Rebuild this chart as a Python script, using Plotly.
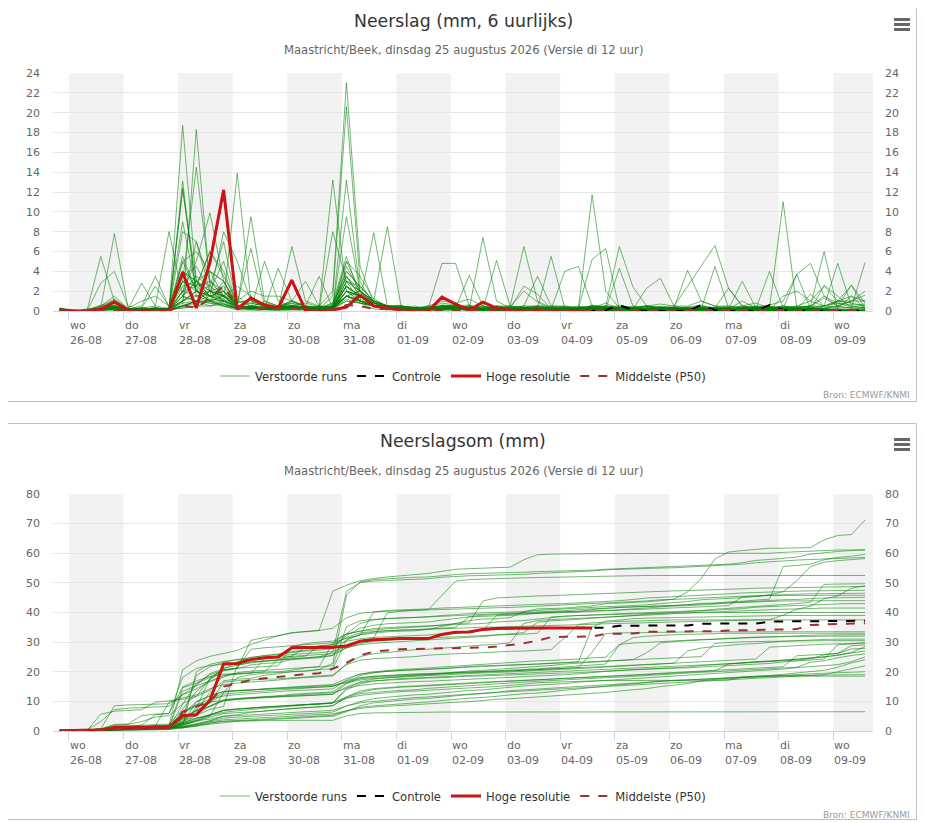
import numpy as np
import pandas as pd
import plotly.graph_objects as go

# 6-hourly precipitation (mm), first value at 25-08 20:00
start = "2026-08-25 20:00"
n_steps = 60

weekdays = ["wo", "do", "vr", "za", "zo", "ma", "di",
            "wo", "do", "vr", "za", "zo", "ma", "di", "wo"]
day_dates = ["26-08", "27-08", "28-08", "29-08", "30-08", "31-08", "01-09",
             "02-09", "03-09", "04-09", "05-09", "06-09", "07-09", "08-09", "09-09"]

hires_6h = [0.1, 0, 0, 0.2, 0.9, 0.1, 0, 0, 0, 3.9, 0.3, 4.9, 12.2,
            0.2, 1.3, 0.6, 0.3, 3.1, 0.1, 0, 0.1, 0.4, 1.6, 0.5, 0.3,
            0.1, 0, 0, 1.4, 0.7, 0.1, 0.9, 0.3, 0.1, 0, 0.1, 0, 0, 0, 0]

control_6h = [0.1, 0, 0, 0.2, 0.9, 0.1, 0, 0, 0, 3.9, 0.3, 4.9, 12.2,
              0.2, 1.3, 0.6, 0.3, 3.1, 0.1, 0, 0.1, 0.4, 1.6, 0.5, 0.3,
              0.1, 0, 0, 1.4, 0.7, 0.1, 0.9, 0.3, 0.1, 0, 0.1, 0, 0, 0, 0,
              0.1, 0.6, 0.1, 0, 0, 0, 0, 0.6, 0.1, 0, 0, 0, 0.6,
              0.1, 0, 0.1, 0, 0, 0, 0.1]

p50_6h = [0, 0, 0, 0, 0.1, 0, 0, 0, 0, 0.6, 0.3, 1.3, 2.5,
          0.4, 0.3, 0.2, 0.2, 0.3, 0.1, 0.1, 0.1, 0.6, 0.5, 0.2, 0.2,
          0.1, 0, 0, 0.1, 0.1, 0.1, 0.1, 0.1, 0.1, 0.1, 0.1, 0.1,
          0.1, 0.1, 0.1, 0.1, 0.1, 0.1, 0, 0.1, 0, 0.1, 0.1, 0.1,
          0.1, 0.1, 0, 0.1, 0.1, 0.1, 0.1, 0.1, 0.1, 0.1, 0.1]

# median of the accumulated sums (own series in the lower chart)
p50_sum = [0.3, 0.3, 0.3, 0.3, 0.5, 0.6, 0.7, 0.8, 0.9, 6.5, 8.2, 9.9, 15.0,
           16.2, 17.2, 17.8, 18.3, 18.9, 19.2, 19.5, 21.0, 23.0, 25.5, 26.8, 27.3,
           27.6, 27.7, 27.8, 27.9, 27.9, 28.0, 28.2, 28.5, 29.0, 29.6, 30.5, 31.7,
           31.8, 31.9, 31.9, 32.8, 32.8, 32.9, 33.5, 33.5, 33.5, 33.5, 33.5, 33.7,
           33.9, 34.0, 34.1, 34.1, 34.2, 34.4, 35.8, 36.0, 36.2, 36.3, 36.4]

members_6h = [
    [0.2, 0, 0, 0.4, 1.1, 0.2, 0, 0.3, 0.1, 5.0, 6.0, 4.0, 3.0, 0.8, 1.2, 0.5, 0.3, 1.0, 0.4, 0.2, 0.8, 5.5, 1.5, 0.6, 0.4, 0.2, 0.1, 0.5, 1.0, 0.8, 1.2, 0.5, 0.1, 0.4, 2.0, 0.9, 0.1, 0.2, 0.4, 0.3, 0.8, 0.2, 0.1, 0.3, 0.4, 0.5, 2.5, 4.5, 6.6, 2.3, 0.5, 0.3, 0.5, 0, 0.1, 0.1, 2.6, 1.5, 0.3, 4.9],
    [0.1, 0, 0.1, 0.6, 0.5, 0.2, 0.1, 0.3, 0.1, 18.7, 3.0, 1.5, 1.0, 1.0, 2.0, 1.5, 1.5, 1.0, 0.5, 0.3, 13.2, 2.0, 1.5, 0.8, 0.5, 0.5, 0.3, 0.4, 0.8, 0.6, 0.2, 0.1, 0.1, 0.3, 2.5, 1.7, 0.2, 0.1, 0, 0, 0.1, 0, 0, 0, 0.1, 0, 0, 0, 0, 0, 0, 0, 0, 0.3, 0.2, 0.3, 0.2, 0.1, 0, 0.1],
    [0.1, 0, 0, 0.3, 0.5, 0.1, 0.2, 0.2, 0.1, 3.0, 2.5, 6.0, 4.0, 0.5, 0.3, 1.0, 0.5, 0.8, 0.2, 0.5, 2.0, 23.0, 4.5, 0.8, 0.3, 0.3, 0.2, 0.1, 0.5, 0.3, 0.3, 0.1, 0, 0.1, 0.3, 0.2, 0.1, 0.1, 0.2, 0.1, 0.3, 0.2, 0.1, 0.3, 0.2, 0.1, 0.1, 0.3, 0.2, 0.2, 0.5, 0.8, 0.3, 0.3, 0.5, 1.0, 0.5, 0.4, 0.3, 0.2],
    [0.1, 0, 0, 0.2, 0.3, 0.1, 0.1, 0.1, 0.1, 12.4, 2.0, 4.0, 1.5, 2.5, 1.5, 0.5, 0.4, 1.0, 0.5, 0.3, 0.6, 4.0, 2.5, 1.0, 0.5, 0.2, 0.1, 0.3, 0.6, 0.5, 0.6, 0.2, 0.1, 0.2, 0.3, 0.5, 0.3, 0.2, 0.1, 0.6, 0.4, 0.3, 0.2, 0.1, 0.2, 0.1, 0.3, 0.5, 0.2, 0.2, 0.3, 0.4, 0.3, 11.0, 0.3, 0.5, 1.5, 0.8, 0.4, 0.6],
    [0.1, 0, 0, 0.2, 0.2, 0.1, 0, 0.1, 0.1, 1.5, 3.0, 2.0, 1.0, 13.9, 1.0, 0.5, 0.3, 0.5, 0.3, 0.2, 1.5, 20.6, 3.0, 0.5, 0.2, 0.2, 0.1, 0.3, 0.5, 0.3, 0.2, 0.1, 0.1, 0.1, 0.2, 0.3, 0.2, 0.1, 0.2, 0.3, 0.4, 0.2, 0.1, 0.2, 0.1, 0.1, 0.2, 0.3, 0.2, 0.3, 0.2, 0.5, 0.4, 0.2, 0.3, 0.2, 0.1, 0.2, 0.1, 0.3],
    [0.2, 0, 0.1, 0.3, 0.2, 0.1, 0.1, 0.1, 0.1, 3.0, 14.5, 3.0, 1.5, 1.0, 0.5, 0.8, 0.5, 0.6, 0.4, 0.3, 0.5, 5.0, 3.5, 1.2, 0.5, 0.1, 0.2, 0.3, 0.4, 0.3, 0.4, 0.2, 0.1, 0.1, 0.2, 0.4, 0.3, 0.2, 0.3, 0.4, 0.1, 0.1, 0.2, 0.3, 0.4, 0.3, 0.4, 0.6, 0.2, 0.2, 0.3, 0.4, 0.6, 1.0, 3.7, 4.8, 1.5, 0.5, 0.3, 0.4],
    [0.2, 0, 0, 0.3, 0.4, 0.2, 0.1, 0.2, 0.1, 13.1, 1.5, 2.0, 2.5, 0.5, 9.5, 1.0, 0.5, 1.0, 0.5, 0.3, 0.8, 3.5, 1.5, 0.5, 0.2, 0.2, 0.1, 0.3, 4.8, 4.8, 0.5, 0.2, 0.1, 0.1, 0.2, 0.1, 0.1, 0.1, 0.1, 0.2, 0.1, 0, 0.1, 0, 0, 0, 0, 0, 0, 0, 0, 0, 0, 0, 0, 0, 0, 0, 0, 0],
    [0.1, 0, 0, 0.2, 0.2, 0.1, 0, 0.1, 0.1, 2.0, 5.0, 9.9, 3.0, 0.5, 0.3, 0.2, 0.3, 6.5, 1.0, 0.5, 0.3, 2.5, 1.0, 0.8, 0.3, 0.2, 0.3, 0.1, 0.2, 0.3, 0.2, 0.1, 0.5, 0.2, 0.3, 0.5, 0.5, 0.4, 0.3, 0.2, 0.1, 0.2, 0.3, 0.1, 0.2, 0.1, 0.2, 0.3, 0.4, 0.3, 0.2, 0.3, 0.4, 0.3, 0.4, 0.5, 6.0, 0.1, 0, 0.1],
    [0.2, 0, 0.2, 0.3, 7.8, 0.3, 0.1, 0.2, 0.1, 3.0, 2.0, 2.5, 1.5, 1.5, 0.5, 0.3, 0.2, 0.5, 0.3, 0.2, 8.0, 3.0, 1.0, 0.5, 0.3, 0.3, 0.2, 0.3, 0.5, 0.5, 0.2, 7.4, 1.0, 0.3, 0.2, 0.2, 0.1, 0.2, 0.1, 0.2, 0.3, 0.1, 0.2, 0.2, 0.1, 0.2, 0.1, 0.1, 0.2, 0.2, 0.1, 0.2, 0.1, 0.1, 0.1, 0.1, 0.1, 0, 0.1, 0],
    [0.1, 0, 0, 0.1, 0.1, 0, 0.1, 0, 0.1, 1.0, 2.0, 1.5, 8.0, 5.0, 1.0, 0.5, 0.2, 0.3, 0.2, 0.5, 0.4, 9.5, 2.0, 0.8, 0.5, 0.1, 0.2, 0.1, 0.3, 0.2, 0.1, 0.1, 0.1, 0.1, 0.1, 0.2, 0.1, 0.2, 0.1, 0.1, 0.2, 0.1, 0.1, 0.2, 0.1, 0.1, 0.1, 0.1, 0.1, 0.1, 0.1, 0.2, 0.1, 1.5, 2.0, 1.0, 2.5, 1.0, 2.6, 0.8],
    [0.1, 0, 0, 0.2, 0.3, 0.1, 0.1, 0.1, 0.1, 8.0, 7.0, 3.0, 1.5, 0.8, 6.3, 0.5, 0.3, 0.5, 0.2, 0.3, 0.4, 1.5, 1.0, 7.9, 0.5, 0.2, 0.1, 0.2, 0.3, 0.2, 0.1, 0.1, 0.2, 0.2, 0.3, 0.2, 0.1, 0.1, 0.2, 0.3, 0.2, 0.3, 0.4, 0.5, 0.2, 0.2, 0.3, 0.2, 0.3, 0.2, 0.3, 0.2, 0.1, 0.1, 0.2, 0.1, 0.1, 0, 0.1, 0],
    [0.1, 0, 0.1, 5.5, 1.0, 0.2, 0.3, 2.5, 0.5, 0.5, 1.0, 2.0, 5.0, 0.5, 0.2, 5.0, 1.0, 0.5, 0.3, 0.2, 0.5, 1.5, 2.0, 1.0, 8.5, 0.5, 0.3, 0.2, 0.1, 0.2, 0.1, 0.2, 0.1, 0.1, 0.2, 0.3, 0.2, 0.2, 0.3, 0.2, 0.1, 0.2, 0.3, 0.2, 0.4, 0.1, 0.2, 0.3, 0.2, 0.2, 0.3, 0.2, 0.1, 0.1, 0.2, 0.1, 0.1, 0, 0.1, 0],
    [0.3, 0.1, 0, 2.8, 4.0, 0.5, 0.2, 0.3, 0.1, 4.0, 3.0, 1.5, 2.0, 0.5, 0.4, 0.3, 4.3, 1.0, 3.0, 0.5, 0.3, 2.5, 1.5, 0.5, 0.3, 0.2, 0.1, 0.2, 0.3, 0.3, 3.6, 0.5, 0.2, 0.1, 0.2, 0.1, 0.1, 0.1, 0.2, 0.3, 0.2, 0.1, 0.2, 0.3, 0.2, 0.3, 0.1, 0.2, 0.1, 0.2, 3.0, 0.3, 0.1, 0, 0.1, 0, 0, 0, 0, 0],
    [0.1, 0, 0.1, 0.5, 1.5, 0.2, 2.8, 0.5, 0.2, 12.2, 3.0, 1.0, 0.5, 0.3, 0.5, 0.2, 0.4, 0.8, 0.5, 3.5, 0.3, 1.2, 0.8, 0.5, 0.2, 0.2, 0.1, 0.3, 0.5, 0.5, 0.3, 0.2, 5.1, 0.5, 0.3, 0.2, 0.1, 0.1, 0.2, 0.1, 0.2, 0.2, 0.3, 0.5, 0.3, 0.2, 0.1, 0.2, 0.3, 0.5, 0.3, 0.2, 0.3, 0.2, 0.1, 0.3, 0.2, 0.1, 0, 0.1],
    [0.2, 0, 0, 0.3, 0.8, 0.2, 0.5, 3.5, 0.4, 9.0, 2.0, 1.5, 0.8, 0.2, 0.3, 0.2, 0.1, 0.5, 0.8, 0.4, 0.3, 13.2, 2.0, 0.5, 0.3, 0.2, 0.1, 0.2, 0.3, 0.2, 0.3, 0.1, 0.2, 0.3, 0.2, 0.2, 0.1, 0.2, 0.4, 0.3, 0.1, 0.3, 0.2, 0.1, 0.2, 0.2, 0.3, 0.2, 0.1, 0.2, 0.3, 0.1, 0.2, 0.1, 0, 0.1, 0, 0, 0, 0],
    [0.1, 0, 0, 0.2, 0.5, 0.1, 0.3, 0.5, 8.0, 1.5, 1.0, 2.0, 1.5, 0.5, 0.3, 0.2, 0.5, 0.5, 0.3, 0.2, 0.4, 4.0, 2.5, 1.0, 0.5, 0.5, 0.3, 0.2, 0.4, 0.3, 0.5, 0.2, 0.3, 0.5, 6.5, 1.0, 0.3, 0.2, 0.3, 0.2, 0.1, 0.3, 0.2, 0.5, 0.2, 0.4, 0.3, 0.2, 0.3, 0.2, 0.3, 0.5, 0.2, 0.2, 0.3, 0.2, 0.1, 0.1, 0.1, 0],
    [0, 0, 0, 0.1, 0.4, 0.1, 0.2, 0.3, 0.1, 0.5, 18.3, 2.5, 1.0, 0.5, 0.3, 0.2, 0.3, 0.5, 0.3, 0.2, 0.3, 2.0, 1.0, 0.5, 0.3, 0.2, 0.3, 0.2, 0.3, 0.5, 0.3, 0.2, 0.5, 0.3, 0.5, 3.5, 0.5, 0.2, 0.3, 0.5, 0.3, 0.3, 0.2, 0.1, 0.3, 0.2, 0.3, 0.2, 0.1, 0.2, 0.3, 0.2, 0.1, 0.1, 0.1, 0.2, 0.1, 0, 0, 0],
    [0.1, 0, 0.1, 0.5, 1.2, 0.3, 1.0, 1.5, 0.5, 4.0, 2.5, 6.0, 3.5, 1.0, 0.8, 0.5, 0.3, 0.5, 0.4, 0.3, 0.5, 2.5, 1.5, 0.8, 0.4, 0.3, 0.2, 0.1, 0.3, 0.2, 0.1, 0.3, 0.2, 0.1, 0.2, 0.3, 5.5, 0.3, 0.2, 0.1, 0.2, 0.1, 0.1, 0.2, 0.1, 0, 0.1, 0, 0.1, 0, 0, 0, 0, 0, 0, 0, 0, 0, 0, 0],
    [0.2, 0.1, 0, 0.3, 0.6, 0.1, 0.2, 0.1, 0.2, 4.0, 3.0, 2.0, 1.0, 0.5, 0.4, 0.3, 0.3, 0.3, 0.2, 0.1, 0.3, 3.0, 2.0, 0.5, 0.5, 0.2, 0.1, 0.3, 0.2, 0.5, 0.3, 0.2, 0.1, 0.2, 0.1, 0.2, 0.3, 0.2, 0.3, 11.7, 2.0, 0.3, 0.5, 0.2, 0.1, 0.2, 0.1, 0.1, 0.1, 0.1, 0.1, 0.1, 0, 0, 0, 0, 0, 0, 0, 0],
    [0.1, 0, 0, 0.2, 0.5, 0.1, 0.3, 0.2, 0.1, 2.0, 3.5, 2.5, 7.0, 0.5, 0.3, 0.2, 0.1, 0.3, 0.5, 0.3, 0.2, 3.5, 1.5, 0.5, 0.2, 0.2, 0.3, 0.5, 0.3, 0.2, 0.1, 0.3, 0.2, 0.2, 0.1, 0.3, 0.2, 4.0, 4.5, 0.5, 0.3, 0.2, 0.1, 0.2, 0.1, 0.1, 0, 0, 0, 0, 0, 0, 0, 0, 0, 0, 0, 0, 0, 0],
    [0.2, 0, 0, 0.1, 0.3, 0.1, 0.2, 0.3, 0.2, 5.0, 2.0, 1.0, 3.0, 0.5, 0.3, 0.2, 0.3, 0.5, 0.3, 0.2, 0.4, 1.5, 1.0, 0.5, 0.3, 0.3, 0.2, 0.1, 0.3, 0.2, 0.1, 0.2, 0.3, 0.2, 0.3, 0.2, 0.1, 0.2, 0.3, 5.2, 6.3, 0.2, 0.1, 0.1, 0.1, 0.1, 0, 0, 0, 0, 0, 0, 0, 0, 0, 0, 0, 0, 0, 0],
    [0.1, 0, 0, 0.2, 0.3, 0.2, 0.1, 0.2, 0.1, 3.0, 2.5, 1.5, 2.0, 0.5, 0.3, 0.2, 0.2, 0.3, 0.2, 0.2, 0.3, 3.5, 2.0, 0.5, 0.3, 0.2, 0.1, 0.2, 0.3, 0.2, 0.3, 0.2, 0.1, 0.2, 0.3, 0.2, 0.3, 0.3, 0.2, 0.3, 0.5, 6.5, 2.4, 0.5, 0.3, 0.2, 0.1, 0.2, 0.1, 0.1, 0, 0, 0, 0, 0, 0, 0, 0, 0, 0],
    [0.3, 0, 0, 0.2, 0.4, 0.1, 0.3, 0.2, 0.3, 1.0, 7.0, 2.0, 1.5, 0.3, 0.2, 0.5, 0.3, 0.2, 0.3, 0.4, 0.2, 2.0, 1.5, 0.8, 0.5, 0.3, 0.2, 0.3, 0.4, 0.3, 0.2, 0.5, 0.3, 0.2, 0.3, 0.2, 0.1, 0.2, 0.3, 0.4, 0.2, 4.3, 0.5, 0.2, 0.3, 0.2, 0.3, 0.2, 0.1, 0.2, 0.3, 0.2, 0.1, 0.2, 0.1, 0.2, 0.1, 0.1, 0, 0],
    [0.1, 0, 0, 0.1, 0.2, 0, 0.1, 0.2, 0.1, 2.0, 1.5, 1.0, 1.0, 0.5, 0.5, 0.4, 0.3, 0.5, 0.3, 0.2, 0.5, 5.0, 2.0, 1.0, 0.5, 0.5, 0.3, 0.2, 0.5, 0.5, 0.3, 0.2, 0.3, 0.2, 0.3, 0.5, 0.3, 0.5, 0.3, 0.2, 0.5, 0.3, 0.2, 2.3, 3.3, 0.5, 0.3, 0.2, 0.3, 0.3, 0.2, 0.2, 0.1, 0.1, 0.1, 0, 0, 0, 0, 0],
    [0.2, 0, 0, 0.3, 0.5, 0.2, 0.3, 0.2, 0.2, 3.5, 4.5, 2.0, 1.5, 0.3, 0.2, 0.2, 0.1, 0.2, 0.1, 0.3, 0.2, 2.0, 1.0, 0.5, 0.3, 0.3, 0.2, 0.1, 0.2, 0.2, 0.1, 0.1, 0.2, 0.1, 0.2, 0.3, 0.2, 0.3, 0.2, 0.1, 0.2, 0.2, 0.3, 0.2, 0.1, 0.3, 4.1, 1.0, 0.5, 0.5, 0.3, 0.2, 0.5, 0.3, 0.2, 0.3, 0.1, 0.1, 0, 0],
    [0.1, 0, 0, 0.1, 0.3, 0.1, 0.2, 0.1, 0.1, 2.0, 2.5, 3.0, 2.0, 0.5, 0.3, 0.2, 0.4, 0.5, 0.3, 0.2, 0.3, 3.0, 2.5, 1.0, 0.5, 0.3, 0.2, 0.2, 0.3, 0.3, 0.2, 0.1, 0.2, 0.2, 0.1, 0.3, 0.2, 0.2, 0.3, 0.2, 0.1, 0.2, 0.1, 0.2, 0.3, 0.2, 0.3, 0.2, 4.5, 0.3, 0.2, 0.1, 0.1, 0.1, 0.1, 0, 0, 0, 0, 0],
    [0.2, 0, 0.1, 0.2, 0.3, 0.1, 0.1, 0.2, 0.1, 5.5, 2.0, 1.0, 0.5, 0.3, 0.5, 0.3, 0.2, 0.2, 0.3, 0.2, 0.1, 2.5, 1.5, 0.5, 0.3, 0.2, 0.3, 0.2, 0.1, 0.3, 0.2, 0.1, 0.2, 0.2, 0.1, 0.1, 0.2, 0.2, 0.1, 0.3, 0.2, 0.2, 0.3, 0.2, 0.1, 0.2, 0.1, 0.3, 0.2, 0.2, 0.3, 0.2, 0.3, 0.5, 0.3, 0.2, 0.5, 4.8, 0.5, 0.3],
    [0.1, 0, 0, 0.2, 0.5, 0.2, 0.1, 0.3, 0.2, 1.5, 3.0, 4.0, 3.0, 0.5, 0.3, 0.2, 0.3, 0.3, 0.2, 0.3, 0.2, 1.0, 0.8, 0.5, 0.3, 0.2, 0.3, 0.2, 0.2, 0.3, 0.2, 0.2, 0.1, 0.2, 0.3, 0.2, 0.2, 0.3, 0.2, 0.2, 0.3, 0.2, 0.3, 0.2, 0.3, 0.3, 0.2, 0.3, 0.2, 0.2, 0.3, 0.2, 4.0, 0.3, 0.2, 0.3, 0.2, 0.1, 0.1, 0],
    [0.2, 0, 0, 0.1, 0.2, 0.1, 0.2, 0.1, 0.1, 1.0, 1.5, 2.0, 1.5, 0.3, 0.5, 0.4, 0.2, 0.3, 0.2, 0.2, 0.3, 4.5, 2.0, 1.0, 0.5, 0.3, 0.2, 0.2, 0.3, 0.2, 0.3, 0.2, 0.1, 0.2, 0.3, 0.2, 0.1, 0.1, 0.2, 0.3, 0.2, 0.2, 0.1, 0.2, 0.3, 0.2, 0.3, 0.2, 0.1, 0.3, 0.2, 0.3, 0.2, 0.2, 0.3, 0.5, 1.3, 0.5, 2.6, 0.2],
    [0.1, 0, 0, 0.2, 0.4, 0.1, 0.3, 0.2, 0.1, 2.5, 3.0, 1.5, 2.0, 0.5, 0.3, 0.2, 0.5, 0.3, 0.2, 0.3, 0.2, 1.5, 1.0, 0.5, 0.3, 0.3, 0.2, 0.1, 0.2, 0.2, 0.3, 0.2, 0.1, 0.3, 0.2, 0.2, 0.3, 0.2, 0.3, 0.5, 0.3, 0.3, 0.2, 0.3, 0.2, 0.3, 0.2, 0.5, 0.3, 0.2, 0.3, 0.2, 0.3, 0.5, 0.3, 0.5, 0.3, 0.5, 1.0, 2.0],
    [0.2, 0, 0, 0.1, 0.3, 0.2, 0.1, 0.2, 0.3, 1.0, 2.0, 1.0, 1.5, 0.5, 0.3, 0.2, 0.3, 0.3, 0.2, 0.5, 0.3, 2.0, 1.5, 1.0, 0.5, 0.3, 0.2, 0.2, 0.3, 0.3, 0.2, 0.3, 0.2, 0.2, 0.3, 0.2, 0.3, 0.3, 0.2, 0.3, 0.2, 0.2, 0.3, 0.2, 0.3, 0.3, 0.2, 0.3, 0.2, 0.2, 0.3, 0.2, 0.3, 0.2, 3.7, 0.2, 0.3, 0.3, 1.5, 0.2],
    [0.1, 0, 0, 0.2, 0.3, 0.1, 0.2, 0.3, 0.2, 0.8, 1.0, 1.5, 1.2, 0.3, 0.2, 0.3, 0.5, 0.3, 0.5, 0.3, 0.2, 3.0, 2.0, 0.8, 0.4, 0.3, 0.2, 0.3, 0.2, 0.3, 0.2, 0.3, 0.2, 0.2, 0.1, 0.2, 0.3, 0.2, 0.3, 0.2, 0.1, 0.2, 0.3, 0.2, 0.3, 0.2, 0.3, 0.2, 0.3, 2.3, 0.5, 0.3, 0.2, 0.3, 0.2, 0.3, 0.5, 0.8, 0.6, 0.7],
    [0.2, 0, 0, 0.1, 0.2, 0.1, 0.1, 0.2, 0.1, 0.5, 1.0, 1.0, 1.5, 0.5, 0.8, 0.5, 0.3, 0.5, 0.3, 0.2, 0.5, 2.5, 1.5, 0.5, 0.3, 0.3, 0.2, 0.5, 0.3, 0.5, 0.3, 0.2, 0.3, 0.3, 0.2, 0.3, 0.2, 0.3, 0.2, 0.3, 0.2, 0.2, 0.3, 0.2, 0.3, 0.3, 0.2, 0.3, 0.2, 0.2, 0.3, 0.2, 0.3, 0.3, 0.2, 1.7, 0.5, 1.0, 0.8, 0.5],
    [0.1, 0, 0, 0.1, 0.2, 0.1, 0.1, 0.1, 0.2, 0.5, 0.8, 1.2, 1.0, 0.3, 0.2, 0.3, 0.2, 0.2, 0.3, 0.2, 0.3, 2.0, 1.5, 1.0, 0.5, 0.5, 0.3, 0.2, 0.5, 0.5, 0.3, 0.2, 0.5, 0.3, 0.5, 0.3, 0.2, 0.3, 0.5, 0.3, 0.2, 0.3, 0.2, 0.5, 0.3, 0.2, 0.3, 0.2, 0.3, 0.3, 0.5, 0.3, 0.2, 0.3, 0.5, 0.3, 0.2, 0.5, 1.0, 1.6],
    [0.1, 0, 0, 0.1, 0.3, 0.1, 0.2, 0.1, 0.1, 1.5, 1.0, 0.5, 1.0, 0.2, 0.3, 0.2, 0.3, 0.2, 0.3, 0.2, 0.3, 1.5, 1.0, 0.5, 0.5, 0.3, 0.5, 0.2, 0.3, 0.3, 0.5, 0.3, 0.2, 0.5, 0.3, 0.2, 0.3, 0.3, 0.2, 0.3, 0.5, 0.3, 0.2, 0.3, 0.2, 0.3, 0.2, 0.3, 0.2, 0.3, 0.2, 0.3, 0.2, 0.5, 0.3, 0.5, 0.5, 1.0, 1.5, 1.0],
    [0.2, 0, 0, 0.1, 0.2, 0.1, 0.1, 0.1, 0.2, 0.3, 0.5, 0.5, 0.7, 0.3, 0.2, 0.2, 0.3, 0.3, 0.2, 0.3, 0.2, 1.5, 2.0, 1.0, 0.5, 0.5, 0.3, 0.2, 0.5, 0.3, 0.5, 0.3, 0.4, 0.3, 0.2, 0.3, 0.2, 0.3, 0.2, 0.3, 0.2, 0.3, 0.2, 0.3, 0.2, 0.3, 0.2, 0.3, 0.2, 0.3, 0.2, 0.3, 0.2, 0.3, 0.2, 0.3, 0.2, 1.0, 1.0, 1.0],
    [0.1, 0, 0, 0.1, 0.2, 0.1, 0.1, 0.1, 0.1, 0.5, 1.0, 0.8, 0.7, 0.2, 0.3, 0.2, 0.3, 0.2, 0.3, 0.2, 0.3, 1.0, 0.8, 0.5, 0.3, 0.3, 0.2, 0.3, 0.2, 0.3, 0.2, 0.5, 0.3, 0.2, 0.3, 0.2, 0.3, 0.3, 0.2, 0.5, 0.3, 0.5, 0.3, 0.5, 0.7, 0.5, 0.5, 1.0, 0.5, 0.3, 0.2, 0.3, 0.2, 0.3, 0.2, 0.3, 0.2, 0.2, 0.2, 0.1],
    [0.1, 0, 0, 0.1, 0.3, 0.2, 0.1, 0.1, 0.1, 1.0, 2.0, 1.5, 1.5, 0.5, 0.3, 0.2, 0.5, 0.3, 0.2, 0.3, 0.2, 1.5, 1.0, 0.5, 0.5, 0.3, 0.2, 0.3, 0.2, 0.3, 0.2, 0.3, 0.2, 0.3, 0.5, 0.5, 0.2, 0.1, 0.2, 0.1, 0.1, 0, 0, 0, 0, 0, 0, 0, 0, 0.2, 1.0, 0.3, 0.1, 0.1, 0.1, 0.1, 0.1, 0, 0, 0],
    [0.1, 0, 0, 0.1, 0.2, 0.1, 0.1, 0.1, 0.1, 0.3, 0.5, 1.0, 0.7, 0.2, 0.2, 0.3, 0.3, 0.2, 0.3, 0.2, 0.3, 1.5, 1.2, 0.5, 0.3, 0.5, 0.3, 0.2, 0.5, 0.5, 0.3, 0.2, 0.5, 0.5, 0.3, 0.2, 0.5, 0.5, 0.3, 0.5, 0.5, 0.5, 0.3, 0.5, 0.4, 0.3, 0.2, 0.3, 0.2, 0.2, 0.1, 0.2, 0.1, 0.1, 0, 0, 0, 0, 0, 0],
    [0.1, 0, 0, 0.1, 0.1, 0, 0.1, 0, 0.1, 0.5, 1.0, 0.8, 0.5, 0.1, 0.1, 0, 0.1, 0, 0, 0, 0, 1.5, 0.8, 0.2, 0.1, 0.1, 0, 0, 0.1, 0, 0, 0, 0.1, 0, 0, 0, 0, 0, 0, 0, 0, 0, 0, 0, 0, 0, 0, 0, 0, 0, 0, 0, 0, 0, 0, 0, 0, 0, 0, 0],
]

for row in members_6h + [control_6h, p50_6h, p50_sum]:
    assert len(row) == n_steps, len(row)

times = pd.date_range(start, periods=n_steps, freq="6h")
day_starts = pd.date_range("2026-08-26", periods=len(weekdays), freq="D")
x_range = [pd.Timestamp("2026-08-25 17:00"), pd.Timestamp("2026-09-09 17:30")]

# ---- page geometry (pixels of the 925 x 823 page; the body adds an 8 px margin) ----
PAGE_W, PAGE_H, BODY = 925, 823, 8
L, R = 53, 873
TOP_T, TOP_B = 73, 311
BOT_T, BOT_B = 494, 731
FONT = "DejaVu Sans"
GREEN = "rgba(0,128,0,0.55)"
RED = "#cc1414"
BROWN = "#993333"
GRID = "#e6e6e6"
AXIS = "#ccd6eb"


def px(x):
    return (x - L) / (R - L)


def py(y):
    return (BOT_B - y) / (BOT_B - TOP_T)


panels = [
    dict(x="x", y="y", yr="y3", legend="legend", off=0,
         title="Neerslag (mm, 6 uurlijks)", ymax=24, dtick=2,
         members=members_6h, control=control_6h, hires=hires_6h, p50=p50_6h,
         axis_px=TOP_B),
    dict(x="x2", y="y2", yr="y4", legend="legend2", off=420,
         title="Neerslagsom (mm)", ymax=80, dtick=10,
         members=[np.cumsum(m) for m in members_6h],
         control=np.cumsum(control_6h), hires=np.cumsum(hires_6h), p50=p50_sum,
         axis_px=BOT_B),
]

fig = go.Figure()
shapes, annotations = [], []

for p in panels:
    common = dict(xaxis=p["x"], yaxis=p["y"], legend=p["legend"], mode="lines",
                  hoverinfo="skip")
    for k, m in enumerate(p["members"]):
        fig.add_trace(go.Scatter(x=times, y=m, name="Verstoorde runs",
                                 line=dict(color=GREEN, width=1),
                                 showlegend=(k == 0), legendgroup="ens", **common))
    fig.add_trace(go.Scatter(x=times[:len(p["control"])], y=p["control"], name="Controle",
                             line=dict(color="black", width=2, dash="dash"), **common))
    fig.add_trace(go.Scatter(x=times[:len(p["hires"])], y=p["hires"], name="Hoge resolutie",
                             line=dict(color=RED, width=3), **common))
    fig.add_trace(go.Scatter(x=times, y=p["p50"], name="Middelste (P50)",
                             line=dict(color=BROWN, width=2, dash="dash"), **common))
    # carrier for the right-hand axis
    fig.add_trace(go.Scatter(x=times[:1], y=[0], xaxis=p["x"], yaxis=p["yr"],
                             mode="lines", showlegend=False, hoverinfo="skip"))

    # alternating day bands
    for d in range(0, len(day_starts), 2):
        x1 = min(day_starts[d] + pd.Timedelta(days=1), x_range[1])
        shapes.append(dict(type="rect", xref=p["x"], yref=p["y"] + " domain",
                           x0=day_starts[d], x1=x1, y0=0, y1=1,
                           fillcolor="#f2f2f2", line=dict(width=0), layer="below"))

    # panel frame
    off = p["off"]
    shapes.append(dict(type="rect", xref="paper", yref="paper",
                       x0=px(3.5), x1=px(916.5),
                       y0=py(401.5 + off - (2 if off else 0)), y1=py(3.5 + off),
                       line=dict(color="#b4c3cf", width=1)))
    # menu icon
    for yy in (19.5, 24.5, 29.5):
        shapes.append(dict(type="line", xref="paper", yref="paper",
                           x0=px(894), x1=px(910), y0=py(yy + off), y1=py(yy + off),
                           line=dict(color="#666666", width=3)))

    text_common = dict(xref="paper", yref="paper", showarrow=False, yanchor="middle")
    annotations.append(dict(text=p["title"], x=px(463), y=py(21 + off),
                            font=dict(family=FONT, size=17.3, color="#333333"),
                            **text_common))
    annotations.append(dict(text="Maastricht/Beek, dinsdag 25 augustus 2026 (Versie di 12 uur)",
                            x=px(463), y=py(50.5 + off),
                            font=dict(family=FONT, size=11.6, color="#666666"),
                            **text_common))
    annotations.append(dict(text="Bron: ECMWF/KNMI", x=px(912), y=py(395 + off),
                            xanchor="right",
                            font=dict(family=FONT, size=9, color="#999999"),
                            **text_common))
    ax = p["axis_px"]
    for d, (wd, dt) in enumerate(zip(weekdays, day_dates)):
        for txt, dy in ((wd, 14), (dt, 29)):
            annotations.append(dict(text=txt, xref=p["x"], yref="paper",
                                    x=day_starts[d], y=py(ax + dy), xanchor="left",
                                    yanchor="middle", showarrow=False, xshift=-1,
                                    font=dict(family=FONT, size=11, color="#666666")))

xcommon = dict(type="date", range=x_range, showgrid=False, showticklabels=False,
               ticks="outside", ticklen=8, tickcolor=AXIS, tickvals=day_starts,
               showline=True, linecolor=AXIS, linewidth=1, zeroline=False)
tickfont = dict(family=FONT, size=11, color="#666666")


def yaxis(domain, anchor, ymax, dtick, side="left", overlay=None):
    ya = dict(domain=domain, anchor=anchor, range=[0, ymax], dtick=dtick, side=side,
              tickfont=tickfont, zeroline=False, showline=False, ticks="",
              ticklabelstandoff=12 if side == "left" else 11, fixedrange=True)
    if overlay:
        ya.update(overlaying=overlay, showgrid=False)
    else:
        ya.update(showgrid=True, gridcolor=GRID, gridwidth=1)
    return ya


legend_common = dict(orientation="h", xanchor="center", x=px(463), yanchor="middle",
                     font=dict(family=FONT, size=11.6, color="#333333"),
                     bgcolor="rgba(0,0,0,0)", itemwidth=30, tracegroupgap=0,
                     itemclick=False, itemdoubleclick=False)

top_dom = [py(TOP_B), 1.0]
bot_dom = [0.0, py(BOT_T)]

fig.update_layout(
    width=PAGE_W - BODY, height=PAGE_H - BODY,
    margin=dict(l=L - BODY, r=PAGE_W - R, t=TOP_T - BODY, b=PAGE_H - BOT_B, pad=0),
    paper_bgcolor="white", plot_bgcolor="white",
    font=dict(family=FONT, color="#333333"),
    xaxis=dict(anchor="y", **xcommon),
    xaxis2=dict(anchor="y2", **xcommon),
    yaxis=yaxis(top_dom, "x", 24, 2),
    yaxis2=yaxis(bot_dom, "x2", 80, 10),
    yaxis3=yaxis(top_dom, "x", 24, 2, side="right", overlay="y"),
    yaxis4=yaxis(bot_dom, "x2", 80, 10, side="right", overlay="y2"),
    legend=dict(y=py(376), **legend_common),
    legend2=dict(y=py(796), **legend_common),
    shapes=shapes,
    annotations=annotations,
    showlegend=True,
)

fig.write_html("out.html")
